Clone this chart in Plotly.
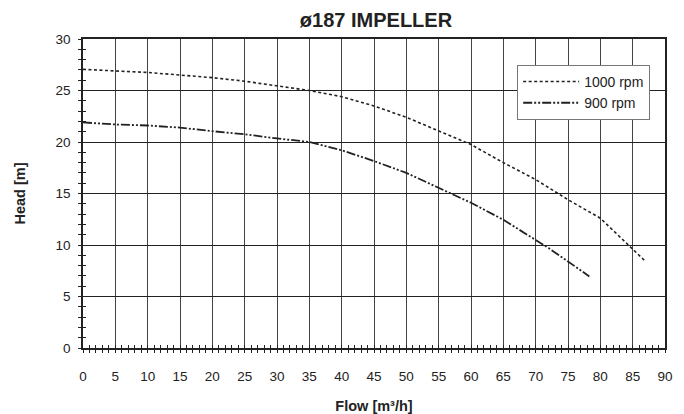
import plotly.graph_objects as go

flow_1000 = [0, 5, 10, 15, 20, 25, 30, 35, 40, 45, 50, 55, 60, 65, 70, 75, 80, 85, 87]
head_1000 = [27.05, 26.9, 26.75, 26.5, 26.25, 25.9, 25.45, 25.0, 24.4, 23.5, 22.4, 21.05, 19.75, 18.0, 16.35, 14.4, 12.6, 9.6, 8.4]

flow_900 = [0, 5, 10, 15, 20, 25, 30, 35, 40, 45, 50, 55, 60, 65, 70, 72, 75, 78.3]
head_900 = [21.9, 21.7, 21.6, 21.4, 21.05, 20.75, 20.35, 20.0, 19.2, 18.15, 17.0, 15.55, 14.1, 12.45, 10.5, 9.7, 8.4, 6.95]

x_ticks = list(range(0, 91, 5))
y_ticks = list(range(0, 31, 5))

font = "Liberation Sans, Arial, sans-serif"
txt = "#222222"

fig = go.Figure()
fig.add_trace(go.Scatter(x=flow_1000, y=head_1000, mode="lines", name="1000 rpm",
                         line=dict(color="#222222", width=1.6, dash="3px,2.5px")))
fig.add_trace(go.Scatter(x=flow_900, y=head_900, mode="lines", name="900 rpm",
                         line=dict(color="#222222", width=1.8, dash="9px,2px,2px,2px,2px,2px")))
# invisible helper trace for the overlay axes (inner half of crossing ticks)
fig.add_trace(go.Scatter(x=[0], y=[0], xaxis="x2", yaxis="y2", mode="markers",
                         marker=dict(opacity=0), showlegend=False, hoverinfo="skip"))

fig.update_layout(
    width=684, height=414,
    margin=dict(l=83, r=19, t=39, b=66),
    paper_bgcolor="white", plot_bgcolor="white",
    font=dict(family=font, size=13, color=txt),
    title=dict(text="<b>ø187 IMPELLER</b>", x=376 / 684, xanchor="center",
               y=1 - 20 / 414, yanchor="middle", font=dict(size=20, color=txt)),
    showlegend=True,
    legend=dict(x=0.746, y=0.916, xanchor="left", yanchor="top",
                bgcolor="white", bordercolor="#777777", borderwidth=1,
                itemwidth=56,
                font=dict(size=14, color=txt), tracegroupgap=0),
    xaxis=dict(range=[0, 90], tickvals=x_ticks, ticktext=[str(v) for v in x_ticks],
               showgrid=True, gridcolor="#444444", gridwidth=1,
               showline=True, linecolor="#222222", linewidth=1.5, mirror=True,
               ticks="outside", ticklen=3, tickcolor="#222222", ticklabelstandoff=12,
               minor=dict(dtick=1, ticks="outside", ticklen=3, tickcolor="#222222", showgrid=False),
               zeroline=False, fixedrange=True, automargin=False,
               title=dict(text="<b>Flow [m³/h]</b>", font=dict(size=14.5, color=txt), standoff=19),
               tickfont=dict(size=13.5, color=txt)),
    yaxis=dict(range=[0, 30], tickvals=y_ticks, ticktext=[str(v) for v in y_ticks],
               showgrid=True, gridcolor="#222222", gridwidth=1,
               showline=True, linecolor="#222222", linewidth=1.5, mirror=True,
               ticks="outside", ticklen=3, tickcolor="#222222", ticklabelstandoff=5,
               minor=dict(dtick=1, ticks="outside", ticklen=3, tickcolor="#222222", showgrid=False),
               zeroline=False, fixedrange=True, automargin=False,
               title=dict(text="<b>Head [m]</b>", font=dict(size=14.5, color=txt), standoff=26),
               tickfont=dict(size=13.5, color=txt)),
    xaxis2=dict(range=[0, 90], overlaying="x", side="bottom", anchor="y2",
                showgrid=False, showticklabels=False, zeroline=False, showline=False,
                tickvals=x_ticks, ticks="inside", ticklen=3, tickcolor="#222222",
                minor=dict(dtick=1, ticks="inside", ticklen=3, tickcolor="#222222")),
    yaxis2=dict(range=[0, 30], overlaying="y", side="left", anchor="x2",
                showgrid=False, showticklabels=False, zeroline=False, showline=False,
                tickvals=y_ticks, ticks="inside", ticklen=3, tickcolor="#222222",
                minor=dict(dtick=1, ticks="inside", ticklen=3, tickcolor="#222222")),
)

fig.write_html("out.html")
